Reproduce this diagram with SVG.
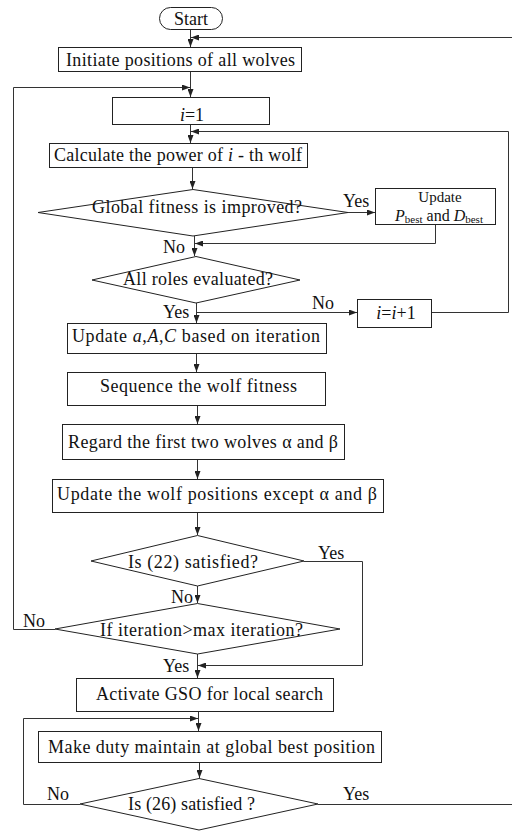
<svg xmlns="http://www.w3.org/2000/svg" width="512" height="831" viewBox="0 0 512 831">
<style>
.n{fill:#fff;stroke:#222;stroke-width:1}
.c{fill:none;stroke:#333;stroke-width:1}
text{font-family:"Liberation Serif","Times New Roman",serif;font-size:18px;fill:#111}
.m{text-anchor:middle}
.i{font-style:italic}
.s{font-size:11px}
</style>
<defs>
<marker id="a" viewBox="0 0 8 6" refX="8" refY="3" markerWidth="8" markerHeight="6" markerUnits="userSpaceOnUse" orient="auto">
<path d="M0,0 L8,3 L0,6 Z" fill="#222"/>
</marker>
</defs>
<rect width="512" height="831" fill="#fff"/>
<g id="connectors">
<path class="c" marker-end="url(#a)" d="M190.5,29 V47"/>
<path class="c" marker-end="url(#a)" d="M318,804.5 H513 V37.5 H191"/>
<path class="c" marker-end="url(#a)" d="M190.5,71 V97"/>
<path class="c" marker-end="url(#a)" d="M55,629.5 H13.5 V87.5 H190"/>
<path class="c" marker-end="url(#a)" d="M190.5,124 V143"/>
<path class="c" marker-end="url(#a)" d="M431,312.5 H508.5 V131.5 H191"/>
<path class="c" marker-end="url(#a)" d="M192.5,167 V189"/>
<path class="c" marker-end="url(#a)" d="M348,212.5 H375"/>
<path class="c" marker-end="url(#a)" d="M435.5,225 V243.5 H195"/>
<path class="c" marker-end="url(#a)" d="M194.5,236 V256"/>
<path class="c" marker-end="url(#a)" d="M196.5,303 V323"/>
<path class="c" marker-end="url(#a)" d="M196.5,312.5 H357"/>
<path class="c" marker-end="url(#a)" d="M196.5,353 V372"/>
<path class="c" marker-end="url(#a)" d="M197.5,405 V424"/>
<path class="c" marker-end="url(#a)" d="M197.5,459 V479"/>
<path class="c" marker-end="url(#a)" d="M197.5,512 V535"/>
<path class="c" marker-end="url(#a)" d="M304,561.5 H362.5 V665.5 H198"/>
<path class="c" marker-end="url(#a)" d="M197.5,586 V603"/>
<path class="c" marker-end="url(#a)" d="M197.5,654 V678"/>
<path class="c" marker-end="url(#a)" d="M198.5,711 V731"/>
<path class="c" marker-end="url(#a)" d="M80,804.5 H23.5 V718.5 H198"/>
<path class="c" marker-end="url(#a)" d="M199.5,762 V778"/>
</g>
<g id="start">
<rect class="n" x="159.5" y="7.5" width="63" height="22" rx="11"/>
<text class="m" x="191" y="25">Start</text>
</g>
<g id="init">
<rect class="n" x="58.5" y="47.5" width="243" height="24"/>
<text class="m" x="180.5" y="66" textLength="229" lengthAdjust="spacing">Initiate positions of all wolves</text>
</g>
<g id="i1">
<rect class="n" x="112.5" y="97.5" width="157" height="27"/>
<text class="m" x="192" y="121"><tspan class="i">i</tspan>=1</text>
</g>
<g id="calc">
<rect class="n" x="49.5" y="143.5" width="258" height="24"/>
<text class="m" x="178" y="161" textLength="248" lengthAdjust="spacing">Calculate the power of <tspan class="i">i</tspan> - th wolf</text>
</g>
<g id="d1">
<polygon class="n" points="193,189.5 348,212.5 193,236 38,212.5"/>
<text class="m" x="197" y="213" textLength="210" lengthAdjust="spacing">Global fitness is improved?</text>
</g>
<g id="upd">
<rect class="n" x="375.5" y="188.5" width="120" height="36"/>
<text class="m" x="440" y="202" style="font-size:15px">Update</text>
<text class="m" x="439" y="221" style="font-size:16px"><tspan class="i">P</tspan><tspan class="s" dy="2">best</tspan><tspan dy="-2"> and </tspan><tspan class="i">D</tspan><tspan class="s" dy="2">best</tspan></text>
</g>
<g id="d2">
<polygon class="n" points="196,256.5 300,280 196,303 92,280"/>
<text class="m" x="198" y="285" textLength="150" lengthAdjust="spacing">All roles evaluated?</text>
</g>
<g id="inc">
<rect class="n" x="357.5" y="299.5" width="74" height="28"/>
<text class="m" x="396" y="319"><tspan class="i">i</tspan>=<tspan class="i">i</tspan>+1</text>
</g>
<g id="updA">
<rect class="n" x="67.5" y="323.5" width="259" height="30"/>
<text class="m" x="196" y="342" textLength="248" lengthAdjust="spacing">Update <tspan class="i">a</tspan>,<tspan class="i">A</tspan>,<tspan class="i">C</tspan> based on iteration</text>
</g>
<g id="seq">
<rect class="n" x="67.5" y="372.5" width="258" height="33"/>
<text class="m" x="198.5" y="392" textLength="197" lengthAdjust="spacing">Sequence the wolf fitness</text>
</g>
<g id="regard">
<rect class="n" x="62.5" y="424.5" width="282" height="35"/>
<text class="m" x="203" y="448" textLength="270" lengthAdjust="spacing">Regard the first two wolves α and β</text>
</g>
<g id="updw">
<rect class="n" x="52.5" y="479.5" width="331" height="33"/>
<text class="m" x="217" y="500" textLength="320" lengthAdjust="spacing">Update the wolf positions except α and β</text>
</g>
<g id="d3">
<polygon class="n" points="197.5,535.5 304,561 197.5,586 91,561"/>
<text class="m" x="193" y="568" textLength="130" lengthAdjust="spacing">Is (22) satisfied?</text>
</g>
<g id="d4">
<polygon class="n" points="197.5,603.5 340,629 197.5,654 55,629"/>
<text class="m" x="201.5" y="636" textLength="203" lengthAdjust="spacing">If iteration&gt;max iteration?</text>
</g>
<g id="act">
<rect class="n" x="76.5" y="678.5" width="257" height="33"/>
<text class="m" x="209.5" y="700" textLength="227" lengthAdjust="spacing">Activate GSO for local search</text>
</g>
<g id="make">
<rect class="n" x="38.5" y="731.5" width="343" height="31"/>
<text class="m" x="211.5" y="753" textLength="327" lengthAdjust="spacing">Make duty maintain at global best position</text>
</g>
<g id="d5">
<polygon class="n" points="199,778.5 318,804 199,830 80,804"/>
<text class="m" x="191.5" y="810" textLength="127" lengthAdjust="spacing">Is (26) satisfied ?</text>
</g>
<g id="labels">
<text x="343" y="207">Yes</text>
<text x="163" y="253">No</text>
<text x="163" y="318">Yes</text>
<text x="312" y="309">No</text>
<text x="318" y="559">Yes</text>
<text x="171" y="603">No</text>
<text x="23" y="627">No</text>
<text x="163" y="672">Yes</text>
<text x="47" y="800">No</text>
<text x="343" y="800">Yes</text>
</g>
</svg>
